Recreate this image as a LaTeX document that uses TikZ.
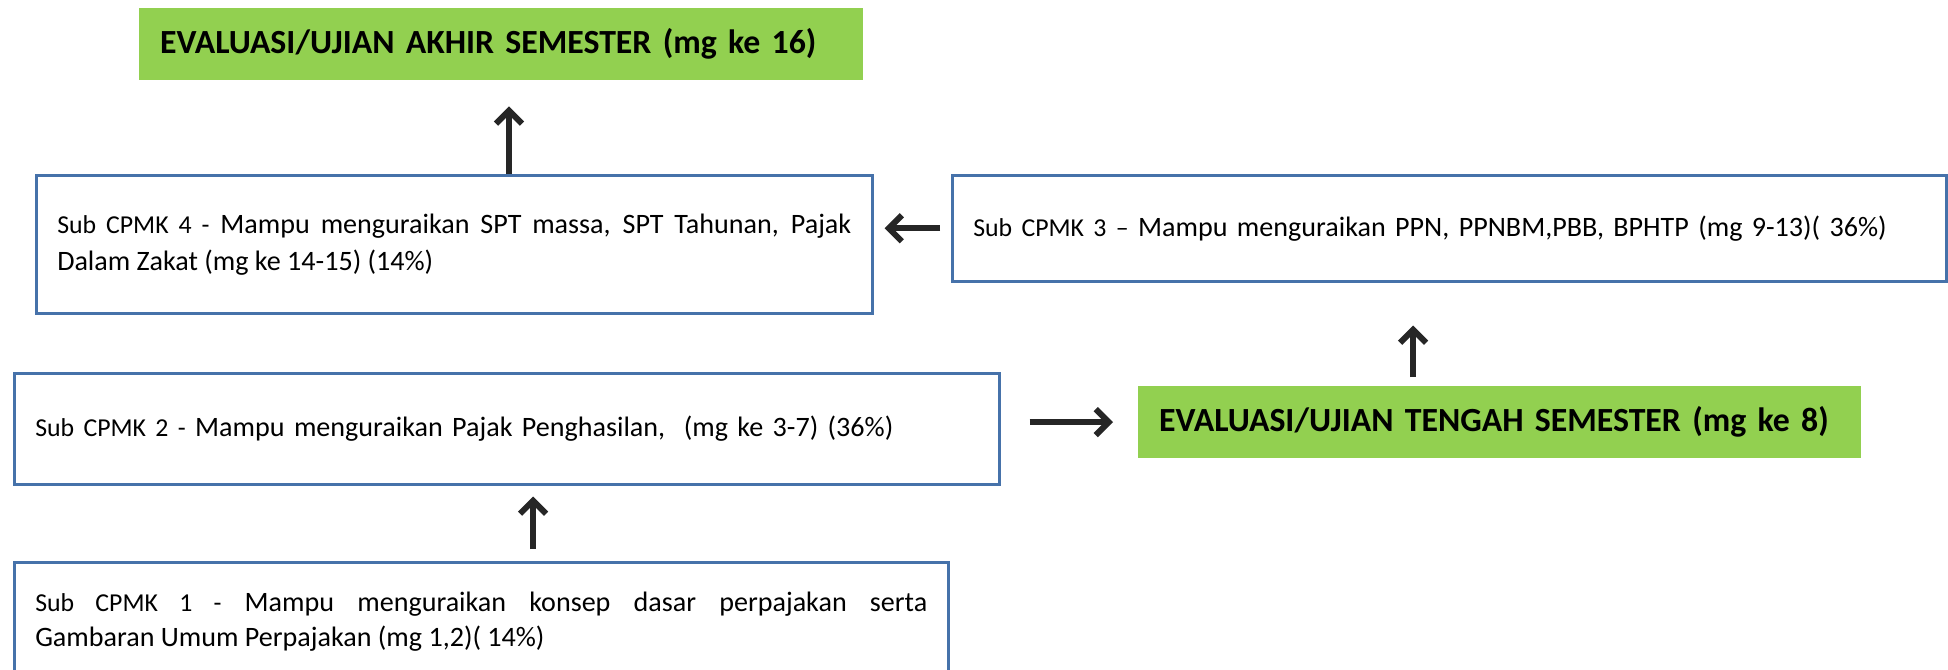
\documentclass[tikz,border=0pt]{standalone}
\usepackage{fontspec}
\setmainfont{Carlito}
\usetikzlibrary{arrows.meta}
\definecolor{boxblue}{RGB}{70,114,170}
\definecolor{evalgreen}{RGB}{146,208,80}
\definecolor{arrowgray}{RGB}{38,38,38}
\newcommand{\subfont}{\fontsize{25.8}{36}\selectfont}
\newcommand{\mainfont}{\fontsize{28.1}{36}\selectfont\hyphenpenalty=10000\exhyphenpenalty=10000}
\begin{document}
\begin{tikzpicture}[x=1pt,y=-1pt,
  cpbox/.style={draw=boxblue,line width=2.5pt,fill=white,anchor=north west,
    inner xsep=21pt,inner ysep=0pt,align=left,font=\mainfont},
  evbox/.style={fill=evalgreen,anchor=north west,inner xsep=21pt,inner ysep=0pt,
    align=left,font=\fontsize{33.8}{40}\selectfont\bfseries},
  arr/.style={draw=arrowgray,line width=6pt,-{Straight Barb[length=13pt,width=26pt]}}]
\clip (0,0) rectangle (1948,669);
\fill[white] (0,0) rectangle (1948,669);
% boxes
\node[evbox,minimum width=724pt,minimum height=72pt,text width=682pt] (eas) at (139,8)
  {EVALUASI/UJIAN AKHIR SEMESTER (mg ke 16)};
\node[cpbox,minimum width=836pt,minimum height=138pt,text width=794pt,align=justify] (c4) at (35,174)
  {\baselineskip=37pt\relax{\subfont Sub CPMK 4 -} Mampu menguraikan SPT massa, SPT Tahunan, Pajak\linebreak Dalam Zakat (mg ke 14-15) (14\%)\par};
\node[cpbox,minimum width=994pt,minimum height=106pt,text width=952pt] (c3) at (951,174)
  {{\subfont Sub CPMK 3 –} Mampu menguraikan PPN, PPNBM,PBB, BPHTP (mg 9-13)( 36\%)};
\node[cpbox,minimum width=985pt,minimum height=111pt,text width=943pt] (c2) at (13,372)
  {{\subfont Sub CPMK 2 -} Mampu menguraikan Pajak Penghasilan,\ \ (mg ke 3-7) (36\%)};
\node[evbox,minimum width=723pt,minimum height=72pt,text width=681pt] (ets) at (1138,386)
  {EVALUASI/UJIAN TENGAH SEMESTER (mg ke 8)};
\node[cpbox,minimum width=934pt,minimum height=119pt,text width=892pt,align=justify] (c1) at (13,561)
  {\baselineskip=35pt\relax{\subfont Sub CPMK 1 -} Mampu menguraikan konsep dasar perpajakan serta\linebreak Gambaran Umum Perpajakan (mg 1,2)( 14\%)\par};
% arrow columns
\coordinate (xa1) at (509,0);
\coordinate (xa3) at (1413,0);
\coordinate (xa5) at (533,0);
% connectors
\draw[arr,shorten >=26pt] (c4.north -| xa1) -- (eas.south -| xa1);
\draw[arr,shorten <=11pt,shorten >=11pt] (c3.west) -- (c3.west -| c4.east);
\draw[arr,shorten <=9pt,shorten >=43pt] (ets.north -| xa3) -- (c3.south -| xa3);
\draw[arr,shorten <=29pt,shorten >=25pt] (c2.east |- ets.west) -- (ets.west);
\draw[arr,shorten <=12pt,shorten >=11pt] (c1.north -| xa5) -- (c2.south -| xa5);
\end{tikzpicture}
\end{document}
